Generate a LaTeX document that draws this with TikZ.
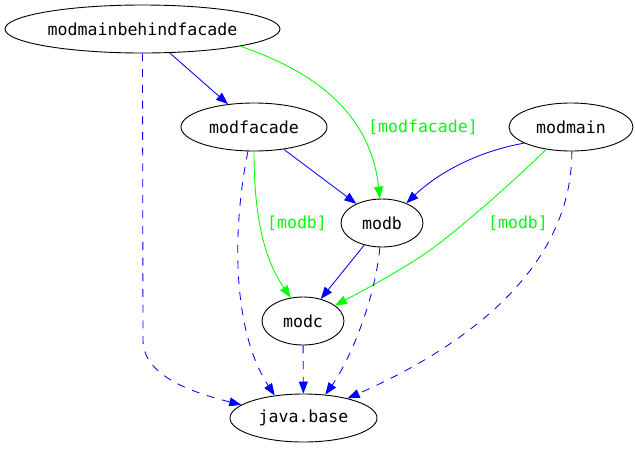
\documentclass[tikz,border=0pt]{standalone}
\usepackage{fontspec}
\setmonofont{DejaVu Sans Mono}
\usetikzlibrary{shapes.geometric,arrows.meta}
\definecolor{gvblue}{RGB}{0,0,255}
\definecolor{gvgreen}{RGB}{0,255,0}
\tikzset{
  mod/.style={ellipse, draw=black, line width=0.9pt, inner sep=0pt, font=\fontsize{16.6}{19}\selectfont\ttfamily},
  dep/.style={draw=gvblue, line width=0.85pt, -{Triangle[length=12pt,width=9pt]}, fill=none},
  depdash/.style={dep, dash pattern=on 8pt off 7.7pt},
  qual/.style={draw=gvgreen, line width=0.85pt, -{Triangle[length=12pt,width=9pt]}},
  lbl/.style={text=gvgreen, inner sep=0pt, font=\fontsize{16.6}{19}\selectfont\ttfamily}
}
\begin{document}
\begin{tikzpicture}[x=1pt,y=-1pt]
\useasboundingbox (0,0) rectangle (635,448);
\node[mod, minimum width=275pt, minimum height=48pt] (mbf) at (142.5,29) {modmainbehindfacade};
\node[mod, minimum width=146pt, minimum height=48pt] (mf) at (254,127) {modfacade};
\node[mod, minimum width=124pt, minimum height=48pt] (mm) at (571,127) {modmain};
\node[mod, minimum width=82pt, minimum height=48pt] (mb) at (382,223) {modb};
\node[mod, minimum width=82pt, minimum height=48pt] (mc) at (303,321) {modc};
\node[mod, minimum width=147pt, minimum height=48pt] (jb) at (303.5,418) {java.base};
% labels
\node[lbl] (l1) at (423,127) {[modfacade]};
\node[lbl] (l2) at (297,223) {[modb]};
\node[lbl] (l3) at (518,223) {[modb]};
% edges
\draw[dep] (mbf) -- (mf);
\draw[qual] (mbf.-10.2) .. controls (310,70) and (370,110) .. (mb.95);
\draw[depdash] (mbf.-90) -- (143,340) .. controls (143,375) and (190,392) .. (jb.168.2);
\draw[dep] (mf) -- (mb);
\draw[qual] (mf.-90) .. controls (254,220) and (265,260) .. (mc.118.4);
\draw[depdash] (mf.-104) .. controls (232,230) and (232,330) .. (jb.142);
\draw[dep] (mm.199.6) .. controls (480,151) and (440,171) .. (mb.39.8);
\draw[qual] (mm.222.5) .. controls (510,185) and (460,228) .. (433,248) .. controls (410,265) and (370,287) .. (mc.26.6);
\draw[depdash] (mm.-88) .. controls (572,260) and (480,340) .. (jb.24);
\draw[dep] (mb) -- (mc);
\draw[depdash] (mb.-95) .. controls (375,300) and (350,360) .. (jb.47);
\draw[depdash] (mc) -- (jb);
\end{tikzpicture}
\end{document}
